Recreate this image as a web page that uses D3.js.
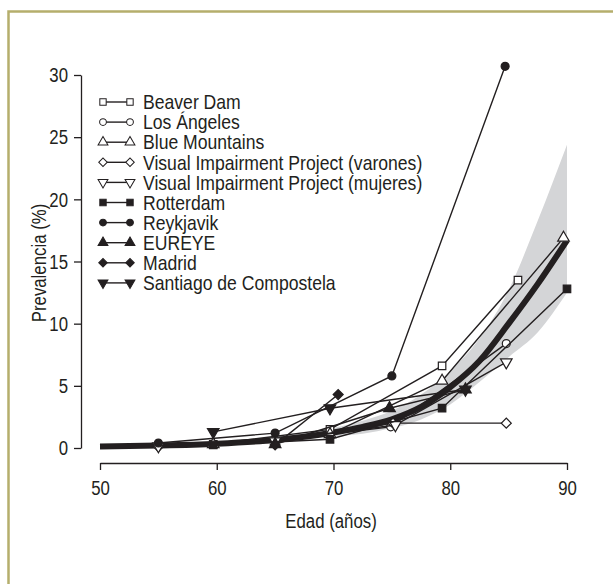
<!DOCTYPE html>
<html>
<head>
<meta charset="utf-8">
<script src="https://cdn.jsdelivr.net/npm/d3@7"></script>
<style>
  body { margin: 0; background: #fff; }
  text { font-family: "Liberation Sans", Arial, sans-serif; fill: #231f20; }
</style>
</head>
<body>
<script>
// pooled estimate with its confidence band
var fitAges  = [50, 55, 60, 65, 70, 72.5, 75, 77.5, 80, 82.5, 85, 87.5, 90];
var fitMid   = [0.12, 0.2, 0.35, 0.65, 1.25, 1.7, 2.3, 3.3, 4.9, 7.0, 10.0, 13.2, 16.7];
var fitUpper = [0.18, 0.28, 0.48, 0.9, 1.6, 2.2, 3.0, 4.3, 6.2, 8.8, 12.7, 18.3, 24.4];
var fitLower = [0.08, 0.14, 0.26, 0.45, 0.95, 1.15, 1.6, 2.3, 3.5, 5.3, 7.3, 9.3, 12.5];

// studies
var studyNames = ["Beaver Dam", "Los Ángeles", "Blue Mountains",
  "Visual Impairment Project (varones)", "Visual Impairment Project (mujeres)",
  "Rotterdam", "Reykjavik", "EUREYE", "Madrid", "Santiago de Compostela"];
var studyShapes = ["square", "circle", "triangle", "diamond", "triangleDown",
  "square", "circle", "triangle", "diamond", "triangleDown"];
var studyFilled = [false, false, false, false, false, true, true, true, true, true];

var beaverAges = [59.7, 69.7, 79.3, 85.8],  beaverPrev = [0.3, 1.5, 6.6, 13.5];
var laAges     = [55, 65, 74.9, 84.8],      laPrev     = [0.2, 0.6, 1.7, 8.4];
var blueAges   = [59.7, 69.7, 79.3, 89.7],  bluePrev   = [0.3, 1.1, 5.4, 16.9];
var vipvAges   = [55, 65, 75.1, 84.8],      vipvPrev   = [0.1, 0.5, 2.0, 2.0];
var vipmAges   = [55, 65, 75.3, 84.8],      vipmPrev   = [0.15, 0.55, 1.85, 6.9];
var rotAges    = [59.7, 69.7, 79.3, 90],    rotPrev    = [0.25, 0.7, 3.2, 12.8];
var reyAges    = [55, 65, 75, 84.7],        reyPrev    = [0.4, 1.2, 5.8, 30.7];
var eurAges    = [65, 74.8, 81.3],          eurPrev    = [0.3, 3.2, 4.7];
var madAges    = [65, 70.4],                madPrev    = [0.25, 4.3];
var stgAges    = [59.7, 69.7, 81.3],        stgPrev    = [1.3, 3.2, 4.7];

var studyAges = [beaverAges, laAges, blueAges, vipvAges, vipmAges, rotAges, reyAges, eurAges, madAges, stgAges];
var studyPrev = [beaverPrev, laPrev, bluePrev, vipvPrev, vipmPrev, rotPrev, reyPrev, eurPrev, madPrev, stgPrev];

var xTicks = [50, 60, 70, 80, 90];
var yTicks = [0, 5, 10, 15, 20, 25, 30];

var W = 613, H = 584;
var narrow = 0.8;   // the original face is a condensed sans
var svg = d3.select("body").append("svg").attr("width", W).attr("height", H);

// olive frame
svg.append("path")
    .attr("d", "M8.5," + H + "V11.5H" + W)
    .attr("fill", "none").attr("stroke", "#b5ae6c").attr("stroke-width", 2.5);

var x = d3.scaleLinear().domain([50, 90]).range([100, 567]);
var y = d3.scaleLinear().domain([0, 30]).range([448, 75]);

// axes
var xAxis = svg.append("g")
    .attr("transform", "translate(0,463)")
    .call(d3.axisBottom(x).tickValues(xTicks).tickSize(7).tickSizeOuter(0).tickPadding(10));
var yAxis = svg.append("g")
    .attr("transform", "translate(81,0)")
    .call(d3.axisLeft(y).tickValues(yTicks).tickSize(7).tickSizeOuter(0).tickPadding(6));
[xAxis, yAxis].forEach(function(a) {
  a.selectAll("path, line").attr("stroke", "#231f20").attr("stroke-width", 1.3);
  a.selectAll("text").style("font-size", "21px").attr("fill", "#231f20")
      .attr("transform", "scale(" + narrow + ",1)");
});
yAxis.selectAll("text").attr("x", -13 / narrow);

svg.append("text").attr("transform", "translate(331,528) scale(" + narrow + ",1)")
    .attr("text-anchor", "middle").style("font-size", "21px").text("Edad (años)");
svg.append("text").attr("transform", "translate(46,263) rotate(-90) scale(" + narrow + ",1)")
    .attr("text-anchor", "middle").style("font-size", "21px").text("Prevalencia (%)");

// confidence band
var fit = fitAges.map(function(a, i) { return {a: a, m: fitMid[i], lo: fitLower[i], hi: fitUpper[i]}; });
svg.append("path").datum(fit)
    .attr("fill", "#d4d5d7")
    .attr("d", d3.area().curve(d3.curveMonotoneX)
      .x(function(d) { return x(d.a); })
      .y0(function(d) { return y(d.lo); })
      .y1(function(d) { return y(d.hi); }));

// pooled curve
svg.append("path").datum(fit)
    .attr("fill", "none").attr("stroke", "#231f20").attr("stroke-width", 6)
    .attr("d", d3.line().curve(d3.curveMonotoneX)
      .x(function(d) { return x(d.a); })
      .y(function(d) { return y(d.m); }));

function symbolPath(shape) {
  if (shape == "square") return d3.symbol().type(d3.symbolSquare).size(56)();
  if (shape == "circle") return d3.symbol().type(d3.symbolCircle).size(50)();
  if (shape == "diamond") return d3.symbol().type(d3.symbolSquare).size(50)();
  return d3.symbol().type(d3.symbolTriangle).size(58)();
}
function symbolRotate(shape) {
  if (shape == "diamond") return 45;
  if (shape == "triangleDown") return 180;
  return 0;
}

var line = d3.line().x(function(d) { return x(d[0]); }).y(function(d) { return y(d[1]); });

studyNames.forEach(function(name, i) {
  var pts = studyAges[i].map(function(a, j) { return [a, studyPrev[i][j]]; });
  var g = svg.append("g");
  g.append("path").datum(pts).attr("d", line)
      .attr("fill", "none").attr("stroke", "#231f20").attr("stroke-width", 1.4);
  g.selectAll("path.pt").data(pts).enter().append("path")
      .attr("class", "pt")
      .attr("d", symbolPath(studyShapes[i]))
      .attr("transform", function(d) {
        return "translate(" + x(d[0]) + "," + y(d[1]) + ") rotate(" + symbolRotate(studyShapes[i]) + ")";
      })
      .attr("fill", studyFilled[i] ? "#231f20" : "#fff")
      .attr("stroke", "#231f20").attr("stroke-width", 1.2);
});

// legend
var legend = svg.append("g").attr("transform", "translate(103,102)");
studyNames.forEach(function(name, i) {
  var row = legend.append("g").attr("transform", "translate(0," + i * 20.1 + ")");
  row.append("line").attr("x1", 0).attr("x2", 27).attr("stroke", "#231f20").attr("stroke-width", 1.4);
  [0, 27].forEach(function(px) {
    row.append("path").attr("d", symbolPath(studyShapes[i]))
        .attr("transform", "translate(" + px + ",0) scale(0.85) rotate(" + symbolRotate(studyShapes[i]) + ")")
        .attr("fill", studyFilled[i] ? "#231f20" : "#fff")
        .attr("stroke", "#231f20").attr("stroke-width", 1.2);
  });
  row.append("text").attr("transform", "translate(40,0) scale(0.88,1)").attr("dy", "0.36em")
      .style("font-size", "20px").text(name);
});
</script>
</body>
</html>
